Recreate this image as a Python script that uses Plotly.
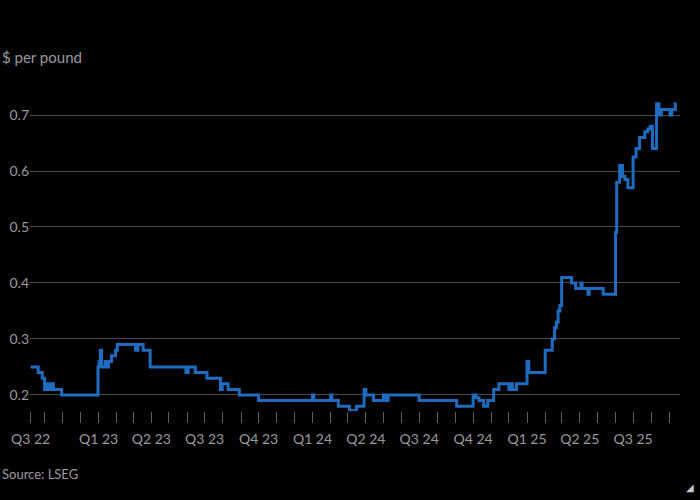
import plotly.graph_objects as go

dates = [
    "2022-09-07", "2022-09-20", "2022-09-27", "2022-10-01", "2022-10-06", "2022-10-09",
    "2022-10-13", "2022-10-16", "2022-10-30", "2022-12-31", "2023-01-02", "2023-01-04",
    "2023-01-06", "2023-01-12", "2023-01-14", "2023-01-18", "2023-01-23", "2023-01-30",
    "2023-02-02", "2023-03-05", "2023-03-09", "2023-03-18", "2023-03-30", "2023-05-30",
    "2023-06-03", "2023-06-15", "2023-07-05", "2023-07-28", "2023-07-31", "2023-08-10",
    "2023-08-29", "2023-10-01", "2024-01-01", "2024-01-03", "2024-02-01", "2024-02-03",
    "2024-02-14", "2024-03-04", "2024-03-16", "2024-03-29", "2024-04-01", "2024-04-14",
    "2024-05-01", "2024-05-04", "2024-05-09", "2024-07-01", "2024-09-03", "2024-10-01",
    "2024-10-06", "2024-10-11", "2024-10-19", "2024-10-26", "2024-11-05", "2024-11-14",
    "2024-12-01", "2024-12-05", "2024-12-07", "2024-12-14", "2025-01-01", "2025-01-04",
    "2025-02-01", "2025-02-13", "2025-02-17", "2025-02-20", "2025-02-23", "2025-02-26",
    "2025-03-01", "2025-03-18", "2025-03-25", "2025-04-03", "2025-04-05", "2025-04-15",
    "2025-04-17", "2025-05-11", "2025-06-01", "2025-06-03", "2025-06-08", "2025-06-13",
    "2025-06-17", "2025-06-22", "2025-07-01", "2025-07-06", "2025-07-12", "2025-07-21",
    "2025-07-26", "2025-07-30", "2025-08-03", "2025-08-10", "2025-08-14", "2025-08-18",
    "2025-09-02", "2025-09-05", "2025-09-11", "2025-09-13",
]
prices = [
    0.25, 0.24, 0.23, 0.21, 0.22, 0.21,
    0.22, 0.21, 0.20, 0.25, 0.26, 0.28,
    0.25, 0.26, 0.25, 0.26, 0.27, 0.28,
    0.29, 0.28, 0.29, 0.28, 0.25, 0.24,
    0.25, 0.24, 0.23, 0.21, 0.22, 0.21,
    0.20, 0.19, 0.20, 0.19, 0.20, 0.19,
    0.18, 0.172, 0.18, 0.21, 0.20, 0.19,
    0.20, 0.19, 0.20, 0.19, 0.18, 0.20,
    0.195, 0.19, 0.18, 0.19, 0.21, 0.22,
    0.21, 0.22, 0.21, 0.22, 0.26, 0.24,
    0.28, 0.30, 0.32, 0.33, 0.35, 0.36,
    0.41, 0.40, 0.39, 0.40, 0.39, 0.38,
    0.39, 0.38, 0.49, 0.58, 0.61, 0.59,
    0.585, 0.57, 0.625, 0.64, 0.66, 0.67,
    0.675, 0.68, 0.64, 0.72, 0.70, 0.71,
    0.70, 0.71, 0.72, 0.72,
]

x_tick_dates = [
    "2022-09-07", "2022-10-01", "2022-11-01", "2022-12-01",
    "2023-01-01", "2023-02-01", "2023-03-01", "2023-04-01", "2023-05-01", "2023-06-01",
    "2023-07-01", "2023-08-01", "2023-09-01", "2023-10-01", "2023-11-01", "2023-12-01",
    "2024-01-01", "2024-02-01", "2024-03-01", "2024-04-01", "2024-05-01", "2024-06-01",
    "2024-07-01", "2024-08-01", "2024-09-01", "2024-10-01", "2024-11-01", "2024-12-01",
    "2025-01-01", "2025-02-01", "2025-03-01", "2025-04-01", "2025-05-01", "2025-06-01",
    "2025-07-01", "2025-08-01", "2025-09-01",
]
x_tick_labels = [
    "Q3 22", "", "", "",
    "Q1 23", "", "", "Q2 23", "", "",
    "Q3 23", "", "", "Q4 23", "", "",
    "Q1 24", "", "", "Q2 24", "", "",
    "Q3 24", "", "", "Q4 24", "", "",
    "Q1 25", "", "", "Q2 25", "", "",
    "Q3 25", "", "",
]
y_ticks = [0.2, 0.3, 0.4, 0.5, 0.6, 0.7]

FONT = "Lato"
GREY = "#9a9a9a"

W, H = 700, 500
ML, MR, MT, MB = 30, 20, 80, 89

fig = go.Figure()
fig.add_trace(go.Scatter(
    x=dates, y=prices, mode="lines",
    line=dict(color="#1f6bbf", width=3, shape="hv"),
    hoverinfo="skip", showlegend=False,
))

H_PLOT = H - MT - MB
W_PLOT = W - ML - MR


def px_to_paper_y(py):
    return (H - MB - py) / H_PLOT


def px_to_paper_x(px):
    return (px - ML) / W_PLOT


fig.update_layout(
    width=W, height=H,
    paper_bgcolor="#000000", plot_bgcolor="#000000",
    margin=dict(l=ML, r=MR, t=MT, b=MB, autoexpand=False),
    font=dict(family=FONT, color=GREY, size=14),
    xaxis=dict(
        type="date",
        range=["2022-09-06", "2025-09-19"],
        tickmode="array", tickvals=x_tick_dates, ticktext=x_tick_labels,
        ticks="outside", ticklen=11, tickcolor="#5e5e5e", tickwidth=1,
        ticklabelstandoff=4,
        showgrid=False, zeroline=False, showline=False, automargin=False,
        tickfont=dict(size=14, color=GREY, family=FONT),
    ),
    yaxis=dict(
        range=[0.1714, 0.7625],
        tickmode="array", tickvals=y_ticks,
        ticktext=[f"{v:.1f}" for v in y_ticks],
        showgrid=True, gridcolor="#4a4a4a", gridwidth=1,
        zeroline=False, showline=False, ticks="", automargin=False,
        tickfont=dict(size=14, color=GREY, family=FONT),
    ),
    annotations=[
        dict(text="$ per pound", x=px_to_paper_x(0), y=px_to_paper_y(57),
             xref="paper", yref="paper",
             xanchor="left", yanchor="middle", showarrow=False,
             font=dict(size=15, color=GREY, family=FONT)),
        dict(text="Source: LSEG", x=px_to_paper_x(0), y=px_to_paper_y(474),
             xref="paper", yref="paper",
             xanchor="left", yanchor="middle", showarrow=False,
             font=dict(size=13, color=GREY, family=FONT)),
        dict(text="◢", x=px_to_paper_x(696), y=px_to_paper_y(487),
             xref="paper", yref="paper",
             xanchor="right", yanchor="middle", showarrow=False,
             font=dict(size=10, color="#c8c8c8", family="DejaVu Sans")),
    ],
)

fig.write_html(
    "out.html",
    config={"displayModeBar": False, "staticPlot": True},
    post_script="document.body.style.margin='0';document.body.style.overflow='hidden';",
)
